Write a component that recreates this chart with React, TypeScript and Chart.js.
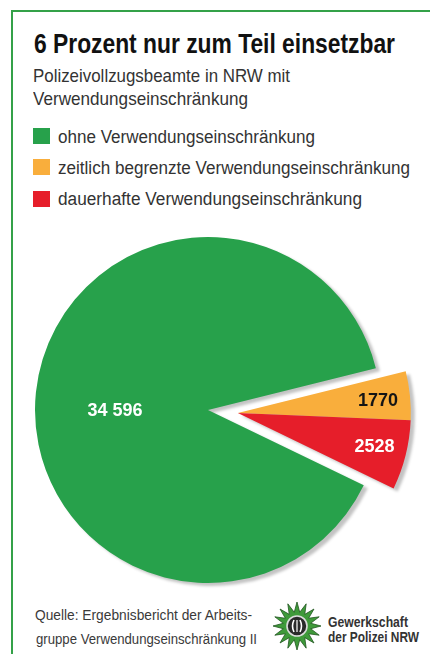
import React, { useEffect, useLayoutEffect, useRef } from "react";
import { Chart, registerables } from "chart.js";

Chart.register(...registerables);

// ---- data ----
const title = "6 Prozent nur zum Teil einsetzbar";
const subtitleLines = ["Polizeivollzugsbeamte in NRW mit", "Verwendungseinschränkung"];
const categories = [
  "ohne Verwendungseinschränkung",
  "zeitlich begrenzte Verwendungseinschränkung",
  "dauerhafte Verwendungseinschränkung",
];
const values = [34596, 1770, 2528];
const sliceColors = ["#27a14b", "#f9ae3c", "#e61e2a"];
const valueLabelColors = ["#ffffff", "#151515", "#ffffff"];
const sourceLines = ["Quelle:  Ergebnisbericht der Arbeits-", "gruppe Verwendungseinschränkung II"];
const logoLines = ["Gewerkschaft", "der Polizei NRW"];

// ---- layout constants ----
const FONT = "'Liberation Sans', Arial, Helvetica, sans-serif";
const ASC = 0.8465;
const EXPLODE = 30;
const ROTATION = 115.8;
const RADIUS = 173;
const labelPlacement = [
  { frac: 0.538, dAngle: -6.5 },
  { frac: 0.813, dAngle: 0.9 },
  { frac: 0.814, dAngle: -0.2 },
];
const legendWidths = [257, 352, 304];
const legendBaselines = [143, 174, 205.5];

function fmt(v: number): string {
  const s = String(v);
  return s.length > 4 ? s.replace(/\B(?=(\d{3})+(?!\d))/g, " ") : s;
}

function Fit(props: {
  x: number;
  baseline: number;
  size: number;
  width: number;
  weight?: number;
  color?: string;
  children: React.ReactNode;
}) {
  const ref = useRef<HTMLSpanElement>(null);
  useLayoutEffect(() => {
    const el = ref.current;
    if (!el) return;
    el.style.transform = "none";
    const w = el.getBoundingClientRect().width;
    if (w > 0) el.style.transform = `scaleX(${props.width / w})`;
  });
  return (
    <span
      ref={ref}
      style={{
        position: "absolute",
        left: props.x,
        top: props.baseline - ASC * props.size,
        fontSize: props.size,
        lineHeight: `${props.size}px`,
        fontWeight: props.weight ?? 400,
        color: props.color ?? "#333",
        whiteSpace: "nowrap",
        display: "inline-block",
        transformOrigin: "0 0",
        fontFamily: FONT,
      }}
    >
      {props.children}
    </span>
  );
}

const explodePlugin = {
  id: "explodeDraw",
  beforeDatasetDraw(chart: any, args: any) {
    const ctx = chart.ctx as CanvasRenderingContext2D;
    const arcs = args.meta.data as any[];
    const mid = (arcs[1].startAngle + arcs[2].endAngle) / 2;
    const dx = Math.cos(mid) * EXPLODE;
    const dy = Math.sin(mid) * EXPLODE;
    arcs.forEach((arc, i) => {
      ctx.save();
      ctx.shadowColor = "rgba(0,0,0,0.24)";
      ctx.shadowBlur = 3;
      ctx.shadowOffsetX = 4;
      ctx.shadowOffsetY = 3;
      if (i > 0) ctx.translate(dx, dy);
      arc.draw(ctx);
      ctx.restore();
    });
    return false;
  },
  afterDatasetsDraw(chart: any) {
    const ctx = chart.ctx as CanvasRenderingContext2D;
    const arcs = chart.getDatasetMeta(0).data as any[];
    const mid12 = (arcs[1].startAngle + arcs[2].endAngle) / 2;
    const dx = Math.cos(mid12) * EXPLODE;
    const dy = Math.sin(mid12) * EXPLODE;
    ctx.save();
    ctx.font = `bold 18px ${FONT}`;
    ctx.textAlign = "center";
    ctx.textBaseline = "middle";
    arcs.forEach((arc, i) => {
      const p = labelPlacement[i];
      const a = (arc.startAngle + arc.endAngle) / 2 + (p.dAngle * Math.PI) / 180;
      const r = arc.outerRadius * p.frac;
      let x = arc.x + Math.cos(a) * r;
      let y = arc.y + Math.sin(a) * r;
      if (i > 0) {
        x += dx;
        y += dy;
      }
      ctx.fillStyle = valueLabelColors[i];
      ctx.fillText(fmt(values[i]), x, y);
    });
    ctx.restore();
  },
};

function Logo() {
  const pts: string[] = [];
  const n = 16;
  for (let i = 0; i < n * 2; i++) {
    const r = i % 2 === 0 ? 24 : 14;
    const a = (i * Math.PI) / n - Math.PI / 2;
    pts.push(`${25 + r * Math.cos(a)},${25 + r * Math.sin(a)}`);
  }
  return (
    <svg
      width={50}
      height={50}
      viewBox="0 0 50 50"
      style={{ position: "absolute", left: 272, top: 601 }}
    >
      <polygon points={pts.join(" ")} fill="#3f9a3a" stroke="#21561f" strokeWidth={0.8} />
      <circle cx={25} cy={25} r={10} fill="#2a2a2a" stroke="#dcdcdc" strokeWidth={1.6} />
      <path d="M22 19 Q19 25 22 31" stroke="#ffffff" strokeWidth={1.6} fill="none" />
      <path d="M28 19 Q31 25 28 31" stroke="#ffffff" strokeWidth={1.6} fill="none" />
      <line x1={25} y1={19} x2={25} y2={31} stroke="#ffffff" strokeWidth={1.2} />
    </svg>
  );
}

export default function App() {
  const canvasRef = useRef<HTMLCanvasElement>(null);

  useEffect(() => {
    const canvas = canvasRef.current;
    if (!canvas) return;
    const chart = new Chart(canvas, {
      type: "pie",
      data: {
        labels: categories,
        datasets: [
          {
            data: values,
            backgroundColor: sliceColors,
            borderWidth: 0,
            hoverOffset: 0,
            radius: RADIUS,
          } as any,
        ],
      },
      options: {
        responsive: false,
        animation: false,
        devicePixelRatio: 1,
        rotation: ROTATION,
        layout: { padding: { left: 35, right: 49, top: 17, bottom: 17 } },
        plugins: {
          legend: { display: false },
          tooltip: { enabled: false },
          title: { display: false },
        },
        events: [],
      } as any,
      plugins: [explodePlugin as any],
    });
    return () => chart.destroy();
  }, []);

  return (
    <div
      style={{
        position: "fixed",
        left: 0,
        top: 0,
        width: 430,
        height: 654,
        background: "#ffffff",
        overflow: "hidden",
        fontFamily: FONT,
      }}
    >
      <div style={{ position: "absolute", left: 11, top: 10, width: 2, height: 644, background: "#34a148" }} />
      <div style={{ position: "absolute", left: 11, top: 10, width: 419, height: 2, background: "#34a148" }} />

      <Fit x={34} baseline={53.5} size={28} width={361} weight={700} color="#111111">
        {title}
      </Fit>
      <Fit x={33} baseline={82.5} size={19} width={257} color="#333333">
        {subtitleLines[0]}
      </Fit>
      <Fit x={33} baseline={105.5} size={19} width={215} color="#333333">
        {subtitleLines[1]}
      </Fit>

      {categories.map((c, i) => (
        <React.Fragment key={c}>
          <div
            style={{
              position: "absolute",
              left: 33,
              top: legendBaselines[i] - 15,
              width: 17,
              height: 16,
              background: sliceColors[i],
            }}
          />
          <Fit x={58} baseline={legendBaselines[i]} size={18} width={legendWidths[i]} color="#333333">
            {c}
          </Fit>
        </React.Fragment>
      ))}

      <canvas
        ref={canvasRef}
        width={430}
        height={380}
        style={{ position: "absolute", left: 0, top: 220, width: 430, height: 380 }}
      />

      <Fit x={35} baseline={620} size={15.5} width={217} color="#3a3a3a">
        {sourceLines[0]}
      </Fit>
      <Fit x={36} baseline={644} size={15.5} width={221} color="#3a3a3a">
        {sourceLines[1]}
      </Fit>

      <Logo />
      <Fit x={328} baseline={627} size={14} width={80} weight={700} color="#333333">
        {logoLines[0]}
      </Fit>
      <Fit x={328} baseline={642} size={14} width={91} weight={700} color="#333333">
        {logoLines[1]}
      </Fit>
    </div>
  );
}
